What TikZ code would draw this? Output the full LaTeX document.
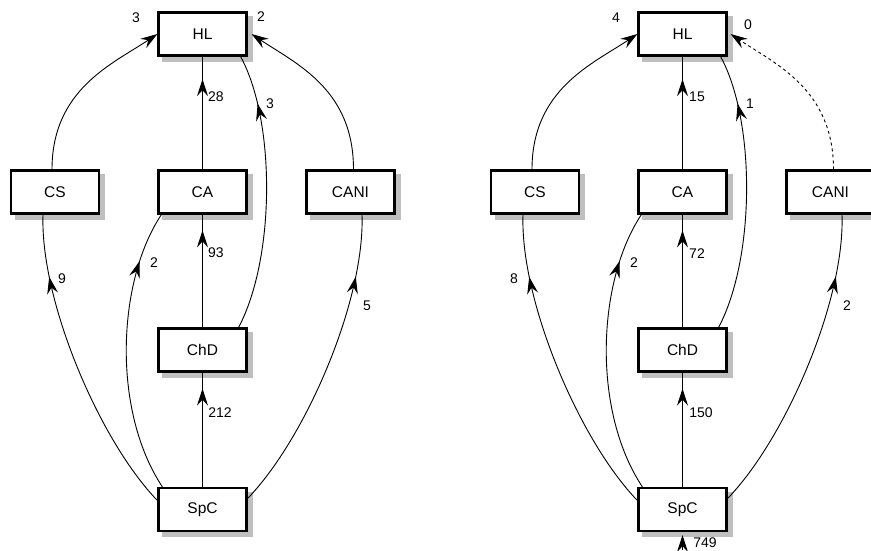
\documentclass[tikz,border=0pt]{standalone}
\usepackage{fontspec}
\setmainfont{Liberation Sans}
\usetikzlibrary{arrows.meta,decorations.markings}
\pgfdeclarelayer{bg}
\pgfsetlayers{bg,main}
\newcommand\boxfont{\fontsize{15.5}{18}\selectfont}
\newcommand\lblfont{\fontsize{14}{16}\selectfont}
\tikzset{
 box/.style={draw, line width=2.2pt, fill=white, minimum width=88pt, minimum height=43pt, inner sep=0pt, font=\boxfont},
 shadowbox/.style={fill=black!25},
 lbl/.style={font=\lblfont, inner sep=0pt},
 edge/.style={line width=0.9pt},
 tip/.style={-{Stealth[length=17pt,width=11pt,inset=6pt]}},
 midarrow/.style={postaction={decorate, decoration={markings, mark=at position #1 with {\arrow{Stealth[length=17pt,width=11pt,inset=6pt]}}}}},
 dashedge/.style={line width=0.9pt, dash pattern=on 3pt off 3pt},
}
\newcommand\shadowof[1]{%
 \fill[shadowbox] ([shift={(5pt,-5pt)}]#1.south west) rectangle ([shift={(5pt,-5pt)}]#1.north east);}
\newcommand\diagedges[1]{%
 \draw[edge, tip] ([xshift=-3pt]#1CS.north) .. controls +(0,-80) and +(-45,30) .. (#1HL.west);
 \draw[edge, midarrow=0.8] (#1CA.north) -- (#1HL.south);
 \draw[edge, midarrow=0.82] ([xshift=-9pt]#1ChD.north east) .. controls +(37,-70) and +(35,64) .. ([xshift=-7pt]#1HL.south east);
 \draw[edge, midarrow=0.86] (#1ChD.north) -- (#1CA.south);
 \draw[edge, midarrow=0.86] (#1SpC.north) -- (#1ChD.south);
 \draw[edge, midarrow=0.8] ([yshift=9pt]#1SpC.west) .. controls +(-58,-60) and +(-3,86) .. ([xshift=-12pt]#1CS.south);
 \draw[edge, midarrow=0.82] ([xshift=5pt]#1SpC.north west) .. controls +(-51,-77) and +(-44,66) .. ([xshift=4pt]#1CA.south west);
 \draw[edge, midarrow=0.8] ([yshift=11pt]#1SpC.east) .. controls +(58,-60) and +(3,86) .. ([xshift=11.5pt]#1CANI.south);
}
\begin{document}
\begin{tikzpicture}[x=1pt,y=-1pt]
\useasboundingbox (0,0) rectangle (871,550);
\node[box] (LHL) at (202.5,34) {HL};
\node[box] (LCS) at (55,192) {CS};
\node[box] (LCA) at (202.5,192) {CA};
\node[box] (LCANI) at (350.5,192) {CANI};
\node[box] (LChD) at (202.5,350) {ChD};
\node[box] (LSpC) at (202.5,509.5) {SpC};
\node[box] (RHL) at (682.5,34) {HL};
\node[box] (RCS) at (535,192) {CS};
\node[box] (RCA) at (682.5,192) {CA};
\node[box] (RCANI) at (830.5,192) {CANI};
\node[box] (RChD) at (682.5,350) {ChD};
\node[box] (RSpC) at (682.5,509.5) {SpC};
\begin{pgfonlayer}{bg}
\foreach \n in {LHL,LCS,LCA,LCANI,LChD,LSpC,RHL,RCS,RCA,RCANI,RChD,RSpC}{\shadowof{\n}}
\end{pgfonlayer}
\diagedges{L}
\draw[edge, tip] ([xshift=3pt]LCANI.north) .. controls +(0,-80) and +(45,30) .. ([xshift=4pt]LHL.east);
\diagedges{R}
\draw[dashedge, tip] ([xshift=3pt]RCANI.north) .. controls +(0,-80) and +(45,30) .. ([xshift=3pt]RHL.east);
\coordinate (Rin) at (682.5,550);
\draw[edge, tip] (Rin) -- ([yshift=-3pt]RSpC.south);
% labels left
\node[lbl] (la1) at (136,18) {3};
\node[lbl] (la2) at (261,17) {2};
\node[lbl] (la3) at (216,97) {28};
\node[lbl] (la4) at (270,104) {3};
\node[lbl] (la5) at (216,253) {93};
\node[lbl] (la6) at (62,279) {9};
\node[lbl] (la7) at (154,263) {2};
\node[lbl] (la8) at (220,413) {212};
\node[lbl] (la9) at (367,306) {5};
% labels right
\node[lbl] (lb1) at (616,18) {4};
\node[lbl] (lb2) at (748,25) {0};
\node[lbl] (lb3) at (697,97) {15};
\node[lbl] (lb4) at (750,104) {1};
\node[lbl] (lb5) at (697,254) {72};
\node[lbl] (lb6) at (514,279) {8};
\node[lbl] (lb7) at (634,263) {2};
\node[lbl] (lb8) at (701,413) {150};
\node[lbl] (lb9) at (847,306) {2};
\node[lbl] (lb10) at (705,543) {749};
\end{tikzpicture}
\end{document}
